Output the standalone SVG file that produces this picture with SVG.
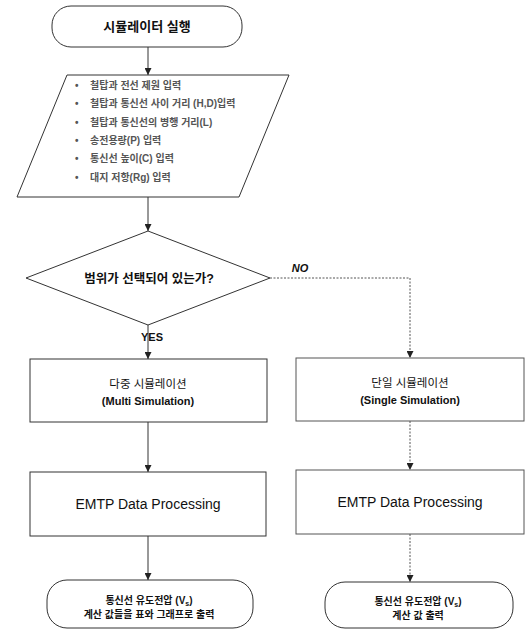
<svg xmlns="http://www.w3.org/2000/svg" width="526" height="632" viewBox="0 0 526 632">
<defs>
<marker id="ah" viewBox="0 0 10 10" refX="10" refY="5" markerWidth="7" markerHeight="7" markerUnits="userSpaceOnUse" orient="auto">
<path d="M0,0 L10,5 L0,10 z" fill="#222"/>
</marker>
<style>
.sh{fill:#fff;stroke:#333;stroke-width:1}
.shr{fill:#fff;stroke:#555;stroke-width:1}
.ln{fill:none;stroke:#333;stroke-width:1}
.dl{fill:none;stroke:#555;stroke-width:1;stroke-dasharray:2 1.5}
.kr{font-family:"Liberation Sans","Noto Sans CJK KR",sans-serif;fill:#111;text-anchor:middle}
.b{font-weight:bold}
.li{font-family:"Liberation Sans","Noto Sans CJK KR",sans-serif;font-size:10px;font-weight:bold;fill:#555}
.en{font-family:"Liberation Sans",Arial,sans-serif;fill:#111;text-anchor:middle}
</style>
</defs>
<rect width="526" height="632" fill="#fff"/>

<g id="connectors">
<line class="ln" x1="148" y1="47" x2="148" y2="75" marker-end="url(#ah)"/>
<line class="ln" x1="148" y1="197" x2="148" y2="231" marker-end="url(#ah)"/>
<line class="ln" x1="148" y1="325" x2="148" y2="359" marker-end="url(#ah)"/>
<line class="ln" x1="148" y1="422" x2="148" y2="472" marker-end="url(#ah)"/>
<line class="ln" x1="148" y1="536" x2="148" y2="580" marker-end="url(#ah)"/>
<polyline class="dl" points="270,278 410,278 410,358" marker-end="url(#ah)"/>
<line class="dl" x1="410" y1="421" x2="410" y2="470" marker-end="url(#ah)"/>
<line class="dl" x1="410" y1="534" x2="410" y2="582" marker-end="url(#ah)"/>
<text x="300" y="272" class="en b" font-size="11" font-style="italic" text-anchor="start">NO</text>
<text x="152" y="341" class="en b" font-size="11" text-anchor="start">YES</text>
</g>

<g id="start">
<rect class="sh" x="52" y="6" width="190" height="41" rx="19"/>
<text x="147" y="31" class="kr b" font-size="13">시뮬레이터 실행</text>
</g>

<g id="input">
<polygon class="sh" points="67,75 289,75 239,197 17,197"/>
<text class="li"><tspan x="75" y="89">•</tspan><tspan x="90" y="89">철탑과 전선 제원 입력</tspan></text>
<text class="li"><tspan x="75" y="107">•</tspan><tspan x="90" y="107">철탑과 통신선 사이 거리 (H,D)입력</tspan></text>
<text class="li"><tspan x="75" y="126">•</tspan><tspan x="90" y="126">철탑과 통신선의 병행 거리(L)</tspan></text>
<text class="li"><tspan x="75" y="144">•</tspan><tspan x="90" y="144">송전용량(P) 입력</tspan></text>
<text class="li"><tspan x="75" y="162">•</tspan><tspan x="90" y="162">통신선 높이(C) 입력</tspan></text>
<text class="li"><tspan x="75" y="181">•</tspan><tspan x="90" y="181">대지 저항(Rg) 입력</tspan></text>
</g>

<g id="decision">
<polygon class="sh" points="148,231 270,278 148,325 26,278"/>
<text x="149" y="283" class="kr b" font-size="12.5">범위가 선택되어 있는가?</text>
</g>

<g id="multi">
<rect class="sh" x="30" y="359" width="237" height="63"/>
<text x="148" y="388" class="kr" font-size="11.5">다중 시뮬레이션</text>
<text x="148" y="405" class="en b" font-size="11">(Multi Simulation)</text>
</g>

<g id="emtp-left">
<rect class="sh" x="30" y="472" width="236" height="64"/>
<text x="148" y="509" class="en" font-size="14">EMTP Data Processing</text>
</g>

<g id="out-left">
<rect class="sh" x="47" y="580" width="206" height="48" rx="20"/>
<text x="149" y="604" class="kr b" font-size="10">통신선 유도전압 (V<tspan font-size="7" dy="2">s</tspan><tspan dy="-2">)</tspan></text>
<text x="149" y="618" class="kr b" font-size="10">계산 값들을 표와 그래프로 출력</text>
</g>

<g id="single">
<rect class="shr" x="296" y="358" width="228" height="63"/>
<text x="410" y="387" class="kr" font-size="11.5">단일 시뮬레이션</text>
<text x="410" y="404" class="en b" font-size="11">(Single Simulation)</text>
</g>

<g id="emtp-right">
<rect class="shr" x="296" y="470" width="228" height="64"/>
<text x="410" y="507" class="en" font-size="14">EMTP Data Processing</text>
</g>

<g id="out-right">
<rect class="sh" x="325" y="582" width="188" height="46" rx="20"/>
<text x="418" y="605" class="kr b" font-size="10">통신선 유도전압 (V<tspan font-size="7" dy="2">s</tspan><tspan dy="-2">)</tspan></text>
<text x="418" y="619" class="kr b" font-size="10">계산 값 출력</text>
</g>
</svg>
